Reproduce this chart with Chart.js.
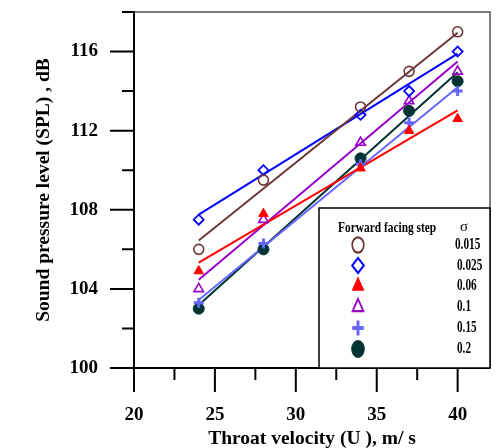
<!DOCTYPE html>
<html><head><meta charset="utf-8">
<script src="https://cdn.jsdelivr.net/npm/chart.js@4/dist/chart.umd.min.js"></script>
<style>html,body{margin:0;padding:0;background:#fff}#wrap{width:502px;height:448px}</style>
</head><body><div id="wrap"><canvas id="c" width="502" height="448"></canvas></div>
<script>
// ---- data ----
const velocity = [24, 28, 34, 37, 40];
const sigmaLabels = ['0.015', '0.025', '0.06', '0.1', '0.15', '0.2'];
const spl_s0015 = [106.0, 109.5, 113.2, 115.0, 117.0];
const spl_s0025 = [107.5, 110.0, 112.8, 114.0, 116.0];
const spl_s006  = [104.9, 107.8, 110.1, 112.0, 112.6];
const spl_s01   = [104.0, 107.5, 111.4, 113.5, 115.0];
const spl_s015  = [103.3, 106.3, 110.3, 112.4, 114.0];
const spl_s02   = [103.0, 106.0, 110.6, 113.0, 114.5];
// fitted trend lines: values at the two ends (x = 24 and x = 40)
const fitX = [24, 40];
const fit_s0015 = [106.45, 116.95];
const fit_s0025 = [107.75, 115.9];
const fit_s006  = [105.33, 113.03];
const fit_s01   = [104.46, 115.5];
const fit_s015  = [103.44, 114.2];
const fit_s02   = [103.19, 114.95];
// axis ticks
const xTicks = [20, 25, 30, 35, 40];
const xMinorTicks = [22.5, 27.5, 32.5, 37.5];
const yTicks = [100, 104, 108, 112, 116];
const yMinorTicks = [102, 106, 110, 114, 118];
const legendTitle = 'Forward facing step';
const legendSymbol = 'σ';
const xTitle = 'Throat velocity (U ), m/ s';
const yTitle = 'Sound pressure level (SPL) , dB';

// ---- styles ----
const seriesValues = [spl_s0015, spl_s0025, spl_s006, spl_s01, spl_s015, spl_s02];
const fitValues = [fit_s0015, fit_s0025, fit_s006, fit_s01, fit_s015, fit_s02];
const colors = ['#6e3636', '#0000ff', '#ff0000', '#9900cc', '#6666ff', '#003333'];
const styles = ['circle', 'rectRot', 'triangle', 'triangle', 'cross', 'circle'];
const filled = [false, false, true, false, false, true];
const radii = [5, 5, 5.5, 5.5, 5, 5.5];
const bws = [1.6, 1.8, 1, 1.6, 3, 1];
const SERIF = '"Liberation Serif", "Times New Roman", serif';

const datasets = [];
seriesValues.forEach((vals, i) => {
  datasets.push({
    label: sigmaLabels[i],
    data: velocity.map((v, k) => ({x: v, y: vals[k]})),
    showLine: false,
    pointStyle: styles[i],
    pointRadius: radii[i],
    pointHoverRadius: radii[i],
    pointBorderWidth: bws[i],
    borderColor: colors[i],
    pointBorderColor: colors[i],
    pointBackgroundColor: filled[i] ? colors[i] : 'rgba(0,0,0,0)',
    order: 0
  });
});
fitValues.forEach((vals, i) => {
  datasets.push({
    label: 'fit ' + sigmaLabels[i],
    data: fitX.map((v, k) => ({x: v, y: vals[k]})),
    showLine: true,
    borderColor: colors[i],
    borderWidth: 2,
    pointRadius: 0,
    fill: false,
    order: 1
  });
});

function condText(ctx, text, x, y, size, sx, align, weight) {
  ctx.save();
  ctx.font = (weight || 'bold') + ' ' + size + 'px ' + SERIF;
  ctx.textBaseline = 'middle';
  ctx.textAlign = align;
  ctx.fillStyle = '#000';
  ctx.translate(x, y);
  ctx.scale(sx, 1);
  ctx.fillText(text, 0, 0);
  ctx.restore();
}

const decor = {
  id: 'decor',
  afterDraw(chart) {
    const {ctx, chartArea: a, scales: {x, y}} = chart;
    ctx.save();
    // top and right frame
    ctx.strokeStyle = '#555';
    ctx.lineWidth = 1.5;
    ctx.beginPath();
    ctx.moveTo(a.left, a.top); ctx.lineTo(a.right, a.top); ctx.lineTo(a.right, a.bottom);
    ctx.stroke();
    // axes
    ctx.strokeStyle = '#000';
    ctx.lineWidth = 2;
    ctx.beginPath();
    ctx.moveTo(a.left, a.top - 1); ctx.lineTo(a.left, a.bottom);
    ctx.moveTo(a.left - 1, a.bottom); ctx.lineTo(a.right, a.bottom);
    // tick marks
    xTicks.forEach(v => { const p = x.getPixelForValue(v); ctx.moveTo(p, a.bottom); ctx.lineTo(p, a.bottom + 24); });
    xMinorTicks.forEach(v => { const p = x.getPixelForValue(v); ctx.moveTo(p, a.bottom); ctx.lineTo(p, a.bottom + 12); });
    yTicks.forEach(v => { const p = y.getPixelForValue(v); ctx.moveTo(a.left, p); ctx.lineTo(a.left - 24, p); });
    yMinorTicks.forEach(v => { const p = y.getPixelForValue(v); ctx.moveTo(a.left, p); ctx.lineTo(a.left - 12, p); });
    ctx.stroke();

    // legend box
    const L = 319, T = 208, R = a.right, B = a.bottom;
    ctx.fillStyle = '#fff';
    ctx.fillRect(L, T, R - L, B - T);
    ctx.strokeStyle = '#000';
    ctx.lineWidth = 1.5;
    ctx.strokeRect(L, T, R - L, B - T);
    condText(ctx, legendTitle, 338, 228, 15, 0.76, 'left', 'bold');
    condText(ctx, legendSymbol, 464, 227, 15, 1, 'center', 'normal');
    const rowY = [245, 265.5, 286, 307, 328, 349];
    for (let i = 0; i < 6; i++) {
      const mx = 358, my = rowY[i];
      ctx.save();
      ctx.translate(mx, my);
      ctx.scale(0.85, 1.12);
      ctx.strokeStyle = colors[i];
      ctx.fillStyle = filled[i] ? colors[i] : 'rgba(0,0,0,0)';
      ctx.lineWidth = bws[i] + 0.4;
      Chart.helpers.drawPoint(ctx, {pointStyle: styles[i], radius: radii[i] + 1.8, borderWidth: bws[i] + 0.4, rotation: 0}, 0, 0);
      ctx.restore();
      condText(ctx, sigmaLabels[i], i === 0 ? 455 : 457, my, 16.5, 0.68, 'left', 'bold');
    }
    ctx.restore();
  }
};

new Chart(document.getElementById('c'), {
  type: 'scatter',
  data: {datasets},
  options: {
    responsive: false,
    devicePixelRatio: 1,
    animation: false,
    events: [],
    layout: {padding: {top: 12, right: 12, bottom: 0, left: 0}},
    plugins: {legend: {display: false}, tooltip: {enabled: false}, title: {display: false}},
    scales: {
      x: {
        type: 'linear', min: 20, max: 42,
        afterBuildTicks: s => { s.ticks = xTicks.map(v => ({value: v})); },
        afterFit: s => { s.height = 80; s.paddingLeft = 0; s.paddingRight = 0; },
        grid: {display: false, drawTicks: false},
        border: {display: false},
        ticks: {color: '#000', padding: 36, maxRotation: 0, autoSkip: false,
                font: {family: SERIF, size: 19, weight: 'bold'}},
        title: {display: true, text: xTitle, color: '#000',
                font: {family: SERIF, size: 19.5, weight: 'bold', lineHeight: 1},
                padding: {top: 0, bottom: -1}}
      },
      y: {
        type: 'linear', min: 100, max: 118,
        afterBuildTicks: s => { s.ticks = yTicks.map(v => ({value: v})); },
        afterFit: s => { s.width = 134; s.paddingTop = 0; s.paddingBottom = 0; },
        grid: {display: false, drawTicks: false},
        border: {display: false},
        ticks: {color: '#000', padding: 36, autoSkip: false,
                font: {family: SERIF, size: 19, weight: 'bold'}},
        title: {display: true, text: yTitle, color: '#000',
                font: {family: SERIF, size: 19.5, weight: 'bold', lineHeight: 1.2},
                padding: {top: 32, bottom: 0}}
      }
    }
  },
  plugins: [decor]
});
</script>
</body></html>
